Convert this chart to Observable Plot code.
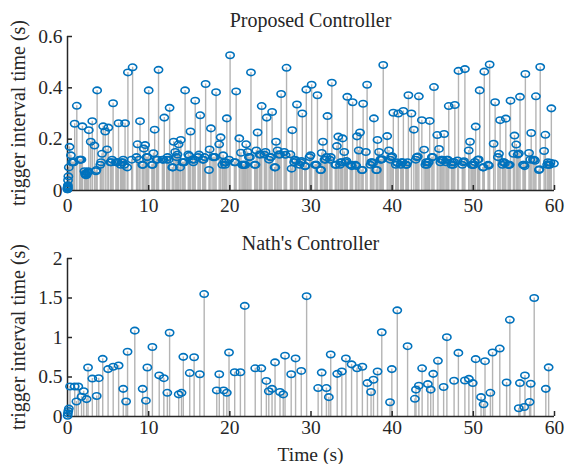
<!DOCTYPE html>
<html><head><meta charset="utf-8">
<script src="https://cdn.jsdelivr.net/npm/d3@7"></script>
<script src="https://cdn.jsdelivr.net/npm/@observablehq/plot@0.6"></script>
<style>
html,body{margin:0;padding:0;background:#fff;}
#chart{width:565px;}
#chart svg{display:block;overflow:visible;}
</style></head><body><div id="chart"></div>
<script>
// Proposed controller: successive trigger intervals (s); each trigger time is the sum of the previous intervals
const propIntervals = [
0.005,0.005,0.01,0.01,0.015,0.02,0.04,0.055,0.09,0.17,0.137,0.11,0.11,0.11,0.26,0.33,0.12,0.12,0.12,0.25,
0.075,0.065,0.06,0.065,0.06,0.07,0.07,0.075,0.235,0.19,0.27,0.175,0.075,0.08,0.39,0.1,0.11,0.143,0.25,0.23,0.16,0.245,0.11,0.11,0.12,0.34,
0.11,0.11,0.11,0.262,0.1,0.11,0.11,0.12,0.1,0.262,0.09,0.46,0.12,0.48,
0.13,0.18,0.12,0.27,0.1,0.1,0.163,0.177,0.13,0.13,0.39,
0.1,0.1,0.145,0.237,0.12,0.12,0.47,
0.12,0.12,0.284,0.12,0.13,0.12,0.322,
0.09,0.09,0.19,0.15,0.13,0.14,0.18,0.09,0.197,0.11,0.11,0.11,0.39,
0.14,0.135,0.23,0.12,0.11,0.12,0.35,0.13,0.14,0.293,0.12,0.12,0.13,0.415,
0.08,0.16,0.242,0.13,0.13,0.13,0.383,
0.18,0.207,0.1,0.137,0.11,0.1,0.11,0.281,0.12,0.527,
0.11,0.11,0.386,0.203,0.147,0.1,0.1,0.1,0.1,0.1,0.18,0.15,0.13,0.13,0.46,
0.1,0.1,0.156,0.226,0.14,0.14,0.329,0.14,0.15,0.284,0.12,0.13,0.13,0.306,
0.09,0.09,0.19,0.156,0.14,0.14,0.376,0.15,0.139,0.478,
0.141,0.085,0.235,0.11,0.12,0.115,0.335,0.1,0.11,0.115,0.3,0.095,0.095,0.393,0.13,0.137,0.412,0.1,0.1,0.1,0.371,
0.08,0.08,0.146,0.19,0.12,0.12,0.13,0.29,0.12,0.13,0.42,
0.1,0.1,0.173,0.21,0.1,0.11,0.11,0.203,0.15,0.11,0.115,0.365,
0.1,0.1,0.095,0.344,0.1,0.096,0.211,0.156,0.226,0.08,0.08,0.338,0.15,0.412,
0.1,0.11,0.11,0.107,0.281,0.08,0.08,0.197,0.15,0.12,0.12,0.122,0.489,
0.212,0.156,0.12,0.13,0.133,0.303,0.1,0.11,0.107,0.3,0.1,0.11,0.11,0.31,0.1,0.1,0.11,0.371,
0.3,0.237,0.12,0.13,0.132,0.367,0.274,0.159,0.1,0.11,0.1,0.11,0.11,0.271,
0.13,0.13,0.403,0.216,0.162,0.11,0.12,0.12,0.118,0.22,0.11,0.12,0.12,0.329,0.1,0.11,0.1,0.111,0.333,
0.117,0.466,0.1,0.11,0.114,0.473,0.156,0.19,0.1,0.1,0.1,0.1,0.111,0.249,0.12,0.121,0.39,
0.09,0.09,0.463,0.1,0.097,0.491,0.182,0.344,0.13,0.143,0.274,0.1,0.11,0.11,0.106,0.28,
0.1,0.1,0.1,0.35,0.143,0.214,0.179,0.14,0.144,0.365,0.1,0.1,0.095,0.454,
0.146,0.12,0.224,0.12,0.12,0.116,0.367,0.08,0.083,0.481,0.154,0.217,0.1,0.11,0.1,0.1,0.108,0.32,0.105
];

// Nath's controller: trigger times (s) and intervals (s)
const nathTimes = [0.02,0.05,0.1,0.17,0.31,0.89,1.1,1.33,1.73,2.0,2.35,2.53,3.06,3.6,
3.85,4.34,5.0,5.63,6.3,6.87,7.22,7.4,8.29,9.26,9.66,9.84,10.46,11.3,11.87,12.3,12.58,13.7,14.05,14.27,
15.06,15.6,16.3,16.84,18.39,18.7,19.23,19.63,19.9,20.6,21.3,21.84,23.13,23.88,24.5,24.8,25.2,25.57,26.18,26.58,
26.8,27.56,28.1,28.8,29.46,30.88,31.32,31.9,32.2,32.43,33.23,33.8,34.3,35.0,35.67,36.33,36.95,37.4,37.7,38.2,
38.72,39.74,39.96,40.63,41.9,42.8,42.93,43.29,43.69,44.4,44.75,45.06,45.64,46.34,46.74,47.63,48.16,48.96,49.45,49.93,
50.29,50.95,51.26,51.44,52.1,52.37,53.26,54.1,54.5,55.6,55.74,56.27,56.36,56.93,57.07,57.5,58.93,59.28];
const nathIntervals = [0.01,0.04,0.07,0.1,0.38,0.38,0.19,0.38,0.25,0.32,0.22,0.62,0.48,0.26,
0.485,0.73,0.6,0.63,0.645,0.35,0.19,0.82,1.087,0.35,0.2,0.62,0.88,0.52,0.485,0.3,1.06,0.28,0.3,0.755,
0.55,0.75,0.535,1.55,0.33,0.535,0.33,0.3,0.81,0.56,0.56,1.4,0.61,0.61,0.45,0.32,0.35,0.685,0.31,0.28,
0.77,0.535,0.735,0.577,1.523,0.36,0.556,0.36,0.245,0.785,0.54,0.57,0.735,0.66,0.61,0.63,0.423,0.31,0.465,0.57,
1.066,0.18,0.6,1.344,0.89,0.224,0.34,0.39,0.61,0.41,0.34,0.54,0.705,0.373,1.004,0.452,0.805,0.456,0.477,0.423,
0.726,0.245,0.154,0.7,0.3,0.81,0.86,0.43,1.224,0.104,0.423,0.12,0.52,0.183,0.415,1.5,0.35,0.622];

const xTicks = [0,10,20,30,40,50,60];
const propYTicks = [0,0.2,0.4,0.6];
const nathYTicks = [0,0.5,1,1.5,2];
const titles = ["Proposed Controller", "Nath's Controller"];
const yLabel = "trigger interval time (s)";
const xLabel = "Time (s)";

let acc = 0;
const propData = propIntervals.map(v => { const d = {t: acc, v}; acc += v; return d; });
const nathData = nathTimes.map((t, i) => ({t, v: nathIntervals[i]}));

// slightly flattened circular marker
const ringSymbol = {
  draw(ctx, size) {
    const r = Math.sqrt(size / Math.PI), rx = r * 1.15, ry = r * 0.9, k = 0.5523;
    ctx.moveTo(rx, 0);
    ctx.bezierCurveTo(rx, ry * k, rx * k, ry, 0, ry);
    ctx.bezierCurveTo(-rx * k, ry, -rx, ry * k, -rx, 0);
    ctx.bezierCurveTo(-rx, -ry * k, -rx * k, -ry, 0, -ry);
    ctx.bezierCurveTo(rx * k, -ry, rx, -ry * k, rx, 0);
    ctx.closePath();
  }
};

const FONT = "'Liberation Serif','Times New Roman',serif";
const AX = "#262626";

function panel({data, yDomain, yTicks, title, height, marginTop, marginBottom, titleY, withXLabel, xPad}) {
  const W = 565, mL = 67, mR = 11;
  const plotH = height - marginTop - marginBottom;
  const plotW = W - mL - mR;
  const svg = Plot.plot({
    width: W, height, marginLeft: mL, marginRight: mR, marginTop, marginBottom,
    style: {fontFamily: FONT, fontSize: "19.5px", color: AX, background: "#fff", overflow: "visible"},
    x: {domain: [0, 60], ticks: xTicks, tickSize: 0, tickPadding: xPad, label: null, tickFormat: d => String(d)},
    y: {domain: yDomain, ticks: yTicks, tickSize: 0, tickPadding: 5, label: null, tickFormat: d => String(d)},
    marks: [
      Plot.ruleX(data, {x: "t", y: "v", stroke: "#b4b4b4", strokeWidth: 1.4}),
      Plot.ruleY([0], {stroke: AX, strokeWidth: 1.5}),
      Plot.ruleX([0], {stroke: AX, strokeWidth: 1.5}),
      Plot.tickX(xTicks, {x: d => d, insetTop: plotH - 5, stroke: AX, strokeWidth: 1.5}),
      Plot.tickY(yTicks, {y: d => d, insetRight: plotW - 5, stroke: AX, strokeWidth: 1.5}),
      Plot.dot(data, {x: "t", y: "v", r: 3.6, symbol: ringSymbol, stroke: "#0072BD", strokeWidth: 1.6, fill: "none"})
    ]
  });
  const s = d3.select(svg);
  const addText = (txt, x, y, rot, size) => s.append("text")
    .attr("transform", `translate(${x},${y})` + (rot ? ` rotate(${rot})` : ""))
    .attr("text-anchor", "middle").attr("dy", "0.35em")
    .attr("font-family", FONT).attr("font-size", size).attr("fill", AX)
    .text(txt);
  addText(title, mL + plotW / 2, titleY, 0, 20);
  addText(yLabel, 18, marginTop + plotH / 2, -90, 20);
  if (withXLabel) addText(xLabel, mL + plotW / 2, height - 10, 0, 19.5);
  return svg;
}

const chart = document.getElementById("chart");
chart.appendChild(panel({data: propData, yDomain: [0, 0.6], yTicks: propYTicks, title: titles[0],
  height: 230, marginTop: 36, marginBottom: 40, titleY: 20, withXLabel: false, xPad: 8}));
chart.appendChild(panel({data: nathData, yDomain: [0, 2], yTicks: nathYTicks, title: titles[1],
  height: 234, marginTop: 28, marginBottom: 48, titleY: 13, withXLabel: true, xPad: 4}));
</script></body></html>
